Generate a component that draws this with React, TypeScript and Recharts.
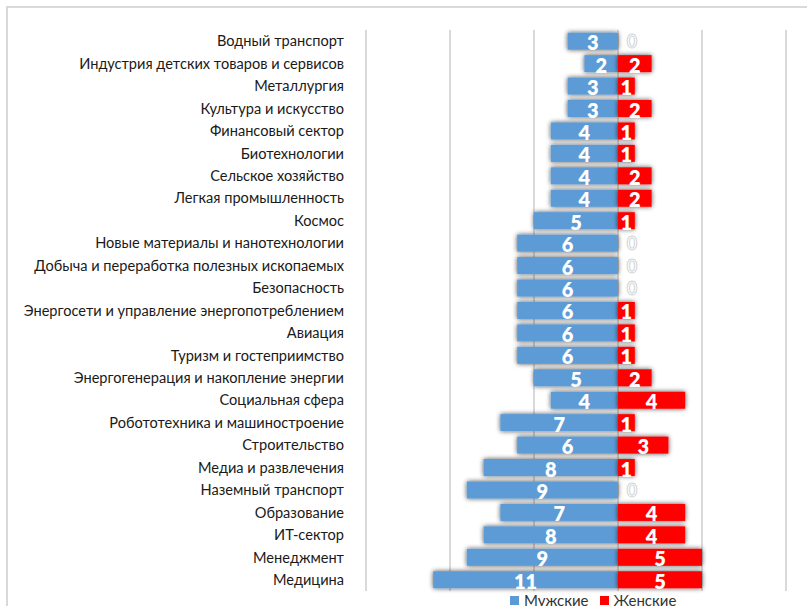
import React from 'react';
import { BarChart, Bar, XAxis, YAxis, CartesianGrid, LabelList, Legend } from 'recharts';

const categories = [
  'Водный транспорт',
  'Индустрия детских товаров и сервисов',
  'Металлургия',
  'Культура и искусство',
  'Финансовый сектор',
  'Биотехнологии',
  'Сельское хозяйство',
  'Легкая промышленность',
  'Космос',
  'Новые материалы и нанотехнологии',
  'Добыча и переработка полезных ископаемых',
  'Безопасность',
  'Энергосети и управление энергопотреблением',
  'Авиация',
  'Туризм и гостеприимство',
  'Энергогенерация и накопление энергии',
  'Социальная сфера',
  'Робототехника и машиностроение',
  'Строительство',
  'Медиа и развлечения',
  'Наземный транспорт',
  'Образование',
  'ИТ-сектор',
  'Менеджмент',
  'Медицина',
];

const male = [3, 2, 3, 3, 4, 4, 4, 4, 5, 6, 6, 6, 6, 6, 6, 5, 4, 7, 6, 8, 9, 7, 8, 9, 11];
const female = [0, 2, 1, 2, 1, 1, 2, 2, 1, 0, 0, 0, 1, 1, 1, 2, 4, 1, 3, 1, 0, 4, 4, 5, 5];

const xTicks = [-15, -10, -5, 0, 5, 10];
const xDomain: [number, number] = [-15, 10];

const BLUE = '#5b9bd5';
const RED = '#ff0000';

const data = categories.map((name, i) => ({
  name,
  male: -male[i],
  female: female[i],
}));

const ShadowRect = (props: any) => {
  const { x, y, width, height, fill } = props;
  if (!width || Math.abs(width) < 0.01) return null;
  const rx = Math.min(x, x + width);
  const w = Math.abs(width);
  return <rect x={rx} y={y} width={w} height={height} fill={fill} filter="url(#barShadow)" />;
};

const makeLabel = (isFemale: boolean) => (props: any) => {
  const { x, y, width, height, value } = props;
  const v = Math.abs(Number(value));
  const cx = x + width / 2 + (v === 0 ? 14 : 0);
  const cy = y + height / 2;
  if (v === 0) {
    return (
      <text
        x={cx}
        y={cy}
        textAnchor="middle"
        dominantBaseline="central"
        fontFamily="Lato, sans-serif"
        fontWeight={700}
        fontSize={18}
        fill="#ffffff"
        stroke="#cfcfcf"
        strokeWidth={0.9}
      >
        0
      </text>
    );
  }
  return (
    <text
      x={cx}
      y={cy + 1}
      textAnchor="middle"
      dominantBaseline="central"
      fontFamily="Lato, sans-serif"
      fontWeight={800}
      fontSize={20}
      fill="#ffffff"
    >
      {v}
    </text>
  );
};

const renderLegend = () => (
  <div style={{ display: 'flex', alignItems: 'center', fontFamily: 'Lato, sans-serif', fontSize: 15, color: '#333', lineHeight: '16px' }}>
    <span style={{ display: 'inline-block', width: 9, height: 9, background: BLUE, marginRight: 5 }} />
    <span style={{ marginRight: 11 }}>Мужские</span>
    <span style={{ display: 'inline-block', width: 9, height: 9, background: RED, marginRight: 5 }} />
    <span>Женские</span>
  </div>
);

const gridX = (props: any) => {
  const { xAxis, offset } = props || {};
  if (xAxis && typeof xAxis.scale === 'function') {
    return xTicks.map((t) => xAxis.scale(t));
  }
  const left = offset?.left ?? 366;
  const w = offset?.width ?? 420;
  return xTicks.map((t) => left + ((t - xDomain[0]) / (xDomain[1] - xDomain[0])) * w);
};

export default function App() {
  return (
    <div style={{ position: 'fixed', left: 0, top: 0, width: 807, height: 606, overflow: 'hidden', background: '#fff' }}>
      <div
        style={{
          position: 'absolute',
          left: 6,
          top: 6,
          width: 900,
          height: 700,
          border: '2px solid #d9d9d9',
          boxSizing: 'border-box',
        }}
      />
      <div style={{ position: 'absolute', left: 0, top: 0 }}>
        <BarChart
          width={807}
          height={606}
          data={data}
          layout="vertical"
          stackOffset="sign"
          barCategoryGap="12%"
          margin={{ top: 30, right: 21, bottom: 15, left: 0 }}
        >
          <defs>
            <filter id="barShadow" x="-30%" y="-40%" width="160%" height="180%">
              <feGaussianBlur in="SourceAlpha" stdDeviation="2.4" result="blur" />
              <feComponentTransfer in="blur" result="shadow">
                <feFuncA type="linear" slope="0.7" />
              </feComponentTransfer>
              <feMerge>
                <feMergeNode in="shadow" />
                <feMergeNode in="SourceGraphic" />
              </feMerge>
            </filter>
          </defs>
          <CartesianGrid
            horizontal={false}
            vertical
            stroke="#d9d9d9"
            strokeWidth={2}
            verticalCoordinatesGenerator={gridX}
          />
          <XAxis
            type="number"
            domain={xDomain}
            ticks={xTicks}
            allowDataOverflow
            height={0}
            tick={false}
            axisLine={false}
            tickLine={false}
          />
          <YAxis
            type="category"
            dataKey="name"
            width={366}
            axisLine={false}
            tickLine={false}
            tickSize={0}
            tickMargin={22}
            interval={0}
            tick={{ fontFamily: 'Lato, sans-serif', fontSize: 14.6, fill: '#1a1a1a' }}
          />
          <Legend
            layout="horizontal"
            verticalAlign="middle"
            align="center"
            content={renderLegend}
            wrapperStyle={{ position: 'absolute', left: 510, top: 592, width: 200 }}
          />
          <Bar dataKey="male" name="Мужские" stackId="s" fill={BLUE} shape={ShadowRect} isAnimationActive={false}>
            <LabelList dataKey="male" content={makeLabel(false)} />
          </Bar>
          <Bar dataKey="female" name="Женские" stackId="s" fill={RED} shape={ShadowRect} isAnimationActive={false}>
            <LabelList dataKey="female" content={makeLabel(true)} />
          </Bar>
        </BarChart>
      </div>
    </div>
  );
}
